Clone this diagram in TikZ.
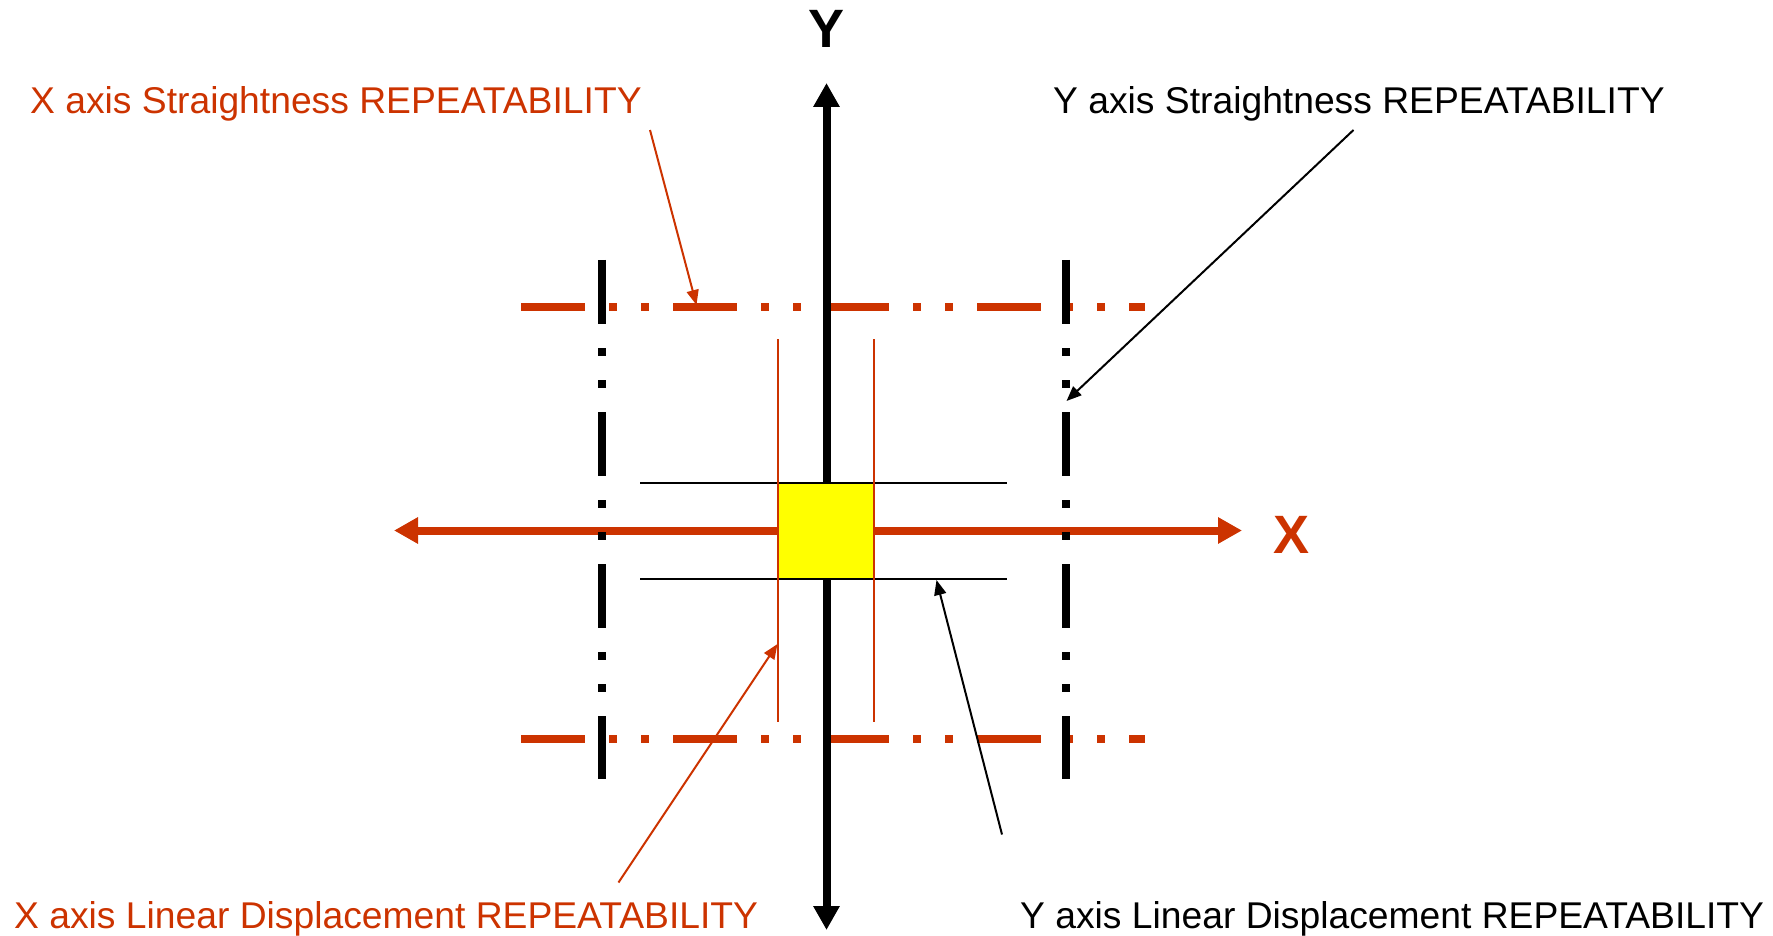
\documentclass[tikz,border=0pt]{standalone}
\usepackage{fontspec}
\setmainfont{Liberation Sans}
\usetikzlibrary{arrows.meta}
\definecolor{axred}{RGB}{204,51,0}
\definecolor{boxyellow}{RGB}{255,255,0}
\tikzset{
  axisline/.style={line width=8pt, {Triangle[length=24pt,width=25pt]}-{Triangle[length=24pt,width=25pt]}},
  dashdot/.style={line width=8pt, dash pattern=on 64pt off 24pt on 8pt off 24pt on 8pt off 24pt},
  thinline/.style={line width=2pt},
  pointer/.style={line width=2pt, -{Triangle[length=15pt,width=12pt]}},
  lbl/.style={inner sep=0pt, anchor=base west, font=\fontsize{37.25pt}{44pt}\selectfont},
  axlbl/.style={inner sep=0pt, font=\fontsize{54pt}{60pt}\selectfont\bfseries},
}
\begin{document}
\begin{tikzpicture}[x=1pt,y=-1pt]
\useasboundingbox (0,0) rectangle (1773,936);
% coordinates
\coordinate (ytop) at (826.5,83);
\coordinate (ybot) at (826.5,930);
\coordinate (xl) at (394,530.5);
\coordinate (xr) at (1242,530.5);
\coordinate (dt1) at (521,306.5);
\coordinate (dt2) at (1145,306.5);
\coordinate (db1) at (521,738.5);
\coordinate (db2) at (1145,738.5);
\coordinate (vl1) at (602,260);
\coordinate (vl2) at (602,779);
\coordinate (vr1) at (1066,260);
\coordinate (vr2) at (1066,779);
% dash-dot red horizontals
\draw[axred, dashdot] (dt1) -- (dt2);
\draw[axred, dashdot] (db1) -- (db2);
% axes
\draw[axred, axisline] (xl) -- (xr);
\draw[black, axisline] (ybot) -- (ytop);
% black dash-dot verticals
\draw[black, dashdot] (vl1) -- (vl2);
\draw[black, dashdot] (vr1) -- (vr2);
% yellow square
\node[fill=boxyellow, draw=none, minimum width=97pt, minimum height=96pt, inner sep=0pt] (sq) at (825.5,530.8) {};
% thin lines
\coordinate (ht1) at (640,482.8);
\coordinate (ht2) at (1006.5,482.8);
\coordinate (hb1) at (640,578.8);
\coordinate (hb2) at (1006.5,578.8);
\coordinate (rl1) at (777.5,339);
\coordinate (rl2) at (777.5,722);
\coordinate (rr1) at (874,339);
\coordinate (rr2) at (874,722);
\draw[black, thinline] (ht1) -- (ht2);
\draw[black, thinline] (hb1) -- (hb2);
\draw[axred, thinline] (rl1) -- (rl2);
\draw[axred, thinline] (rr1) -- (rr2);
% axis labels
\node[axlbl, text=black] (ylab) at (826.5,29) {Y};
\node[axlbl, text=axred] (xlab) at (1291.5,534.5) {X};
% text labels
\node[lbl, text=axred] (xs) at (30,113.3) {X axis Straightness REPEATABILITY};
\node[lbl, text=black] (ys) at (1053,113.3) {Y axis Straightness REPEATABILITY};
\node[lbl, text=axred] (xd) at (14,928.3) {X axis Linear Displacement REPEATABILITY};
\node[lbl, text=black] (yd) at (1020,928.3) {Y axis Linear Displacement REPEATABILITY};
% pointers
\coordinate (p1s) at (650,130);
\coordinate (p1e) at (696.5,305);
\coordinate (p2s) at (1353.5,130);
\coordinate (p2e) at (1066.5,401);
\coordinate (p3s) at (618.5,882.5);
\coordinate (p3e) at (777.5,644);
\coordinate (p4s) at (1002,834.5);
\coordinate (p4e) at (936.5,580);
\draw[axred, pointer] (p1s) -- (p1e);
\draw[black, pointer] (p2s) -- (p2e);
\draw[axred, pointer] (p3s) -- (p3e);
\draw[black, pointer] (p4s) -- (p4e);
\end{tikzpicture}
\end{document}
